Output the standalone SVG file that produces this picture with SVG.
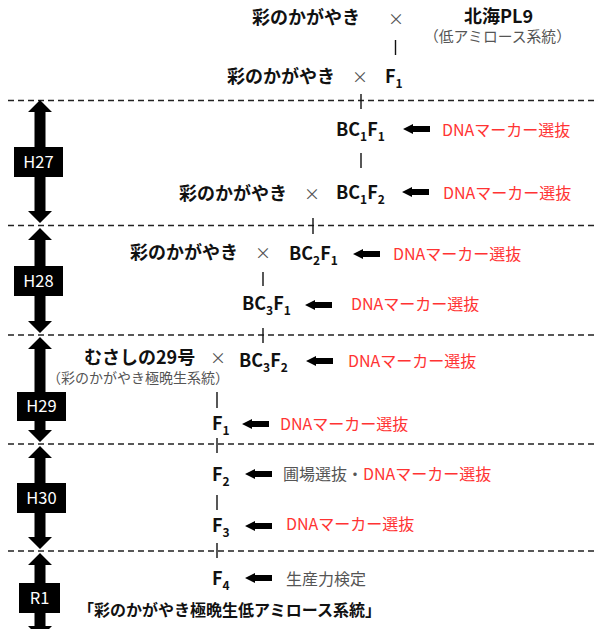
<svg xmlns="http://www.w3.org/2000/svg" width="595" height="629" viewBox="0 0 595 629">
<style>
text{font-family:"Noto Sans CJK JP","Noto Sans",sans-serif;}
.b{font-size:18px;font-weight:bold;fill:#111;}
.x{font-size:16px;fill:#555;text-anchor:middle;}
.g{font-size:16px;fill:#555;}
.gs{font-size:14px;fill:#555;}
.r{font-size:16px;fill:#ff3333;}
.sub{font-size:12px;}
.yr{font-size:16.5px;fill:#fff;text-anchor:middle;}
.dash{stroke:#222;stroke-width:1.3;stroke-dasharray:6 4;fill:none;}
.vl{stroke:#111;stroke-width:1.4;fill:none;}
.ar{fill:#000;}
</style>
<defs>
<path id="la" d="M0,0 L10,-5 L10,-3 L27,-3 L27,3 L10,3 L10,5 Z"/>
</defs>

<g id="dividers">
<line class="dash" x1="8" y1="100.5" x2="595" y2="100.5"/>
<line class="dash" x1="8" y1="225.5" x2="595" y2="225.5"/>
<line class="dash" x1="8" y1="335" x2="595" y2="335"/>
<line class="dash" x1="8" y1="444" x2="595" y2="444"/>
<line class="dash" x1="8" y1="551" x2="595" y2="551"/>
</g>

<g id="years">
<g id="H27">
<path class="ar" d="M40,100 L52,112 L45.5,112 L45.5,211 L52,211 L40,223 L28,211 L34.5,211 L34.5,112 L28,112 Z"/>
<rect x="14" y="147" width="49" height="30" fill="#000"/>
<text class="yr" x="38.5" y="167.5">H27</text>
</g>
<g id="H28">
<path class="ar" d="M40,228 L52,240 L45.5,240 L45.5,321 L52,321 L40,333 L28,321 L34.5,321 L34.5,240 L28,240 Z"/>
<rect x="14" y="266" width="49" height="30" fill="#000"/>
<text class="yr" x="38.5" y="286.5">H28</text>
</g>
<g id="H29">
<path class="ar" d="M40,337 L52,349 L45.5,349 L45.5,430 L52,430 L40,442 L28,430 L34.5,430 L34.5,349 L28,349 Z"/>
<rect x="17" y="392" width="49" height="29" fill="#000"/>
<text class="yr" x="41.5" y="412">H29</text>
</g>
<g id="H30">
<path class="ar" d="M40,446 L52,458 L45.5,458 L45.5,537 L52,537 L40,549 L28,537 L34.5,537 L34.5,458 L28,458 Z"/>
<rect x="17" y="483" width="49" height="30" fill="#000"/>
<text class="yr" x="41.5" y="503.5">H30</text>
</g>
<g id="R1">
<path class="ar" d="M40,553 L52,565 L45.5,565 L45.5,626 L52,626 L40,638 L28,626 L34.5,626 L34.5,565 L28,565 Z"/>
<rect x="19" y="583" width="41" height="30" fill="#000"/>
<text class="yr" x="39.5" y="603.5">R1</text>
</g>
</g>

<g id="connectors">
<line class="vl" x1="395.5" y1="40" x2="395.5" y2="55"/>
<line class="vl" x1="361" y1="94" x2="361" y2="109"/>
<line class="vl" x1="361" y1="153" x2="361" y2="168"/>
<line class="vl" x1="313" y1="218" x2="313" y2="234"/>
<line class="vl" x1="263" y1="272" x2="263" y2="286"/>
<line class="vl" x1="263" y1="328" x2="263" y2="343"/>
<line class="vl" x1="217" y1="392" x2="217" y2="408"/>
<line class="vl" x1="217" y1="438" x2="217" y2="453"/>
<line class="vl" x1="217" y1="495" x2="217" y2="510"/>
<line class="vl" x1="217" y1="543" x2="217" y2="558"/>
<use href="#la" x="403" y="129"/>
<use href="#la" x="402" y="192"/>
<use href="#la" x="353" y="254"/>
<use href="#la" x="305" y="305"/>
<use href="#la" x="306" y="361"/>
<use href="#la" x="242" y="424"/>
<use href="#la" x="245" y="474"/>
<use href="#la" x="245" y="526"/>
<use href="#la" x="245" y="578"/>
</g>

<g id="n-parents">
<text class="b" x="252" y="24">彩のかがやき</text>
<text class="x" x="396" y="25">×</text>
<text class="b" x="464" y="23">北海PL9</text>
<text class="gs" x="424" y="42" style="font-size:14.8px">（低アミロース系統）</text>
</g>

<g id="n-F1cross">
<text class="b" x="227" y="83">彩のかがやき</text>
<text class="x" x="360" y="83">×</text>
<text class="b" x="385" y="83">F<tspan class="sub" dy="5">1</tspan></text>
</g>

<g id="n-BC1F1">
<text class="b" x="336" y="136">BC<tspan class="sub" dy="5">1</tspan><tspan dy="-5">F</tspan><tspan class="sub" dy="5">1</tspan></text>
<text class="r" x="442" y="136">DNAマーカー選抜</text>
</g>

<g id="n-BC1F2">
<text class="b" x="179" y="200">彩のかがやき</text>
<text class="x" x="312" y="200">×</text>
<text class="b" x="336" y="199">BC<tspan class="sub" dy="5">1</tspan><tspan dy="-5">F</tspan><tspan class="sub" dy="5">2</tspan></text>
<text class="r" x="443" y="199">DNAマーカー選抜</text>
</g>

<g id="n-BC2F1">
<text class="b" x="130" y="259">彩のかがやき</text>
<text class="x" x="263" y="259">×</text>
<text class="b" x="289" y="260">BC<tspan class="sub" dy="5">2</tspan><tspan dy="-5">F</tspan><tspan class="sub" dy="5">1</tspan></text>
<text class="r" x="393" y="260">DNAマーカー選抜</text>
</g>

<g id="n-BC3F1">
<text class="b" x="242" y="310">BC<tspan class="sub" dy="5">3</tspan><tspan dy="-5">F</tspan><tspan class="sub" dy="5">1</tspan></text>
<text class="r" x="351" y="310">DNAマーカー選抜</text>
</g>

<g id="n-BC3F2">
<text class="b" x="84" y="364">むさしの29号</text>
<text class="gs" x="47" y="383">（彩のかがやき極晩生系統）</text>
<text class="x" x="218" y="364">×</text>
<text class="b" x="239" y="367">BC<tspan class="sub" dy="5">3</tspan><tspan dy="-5">F</tspan><tspan class="sub" dy="5">2</tspan></text>
<text class="r" x="348" y="367">DNAマーカー選抜</text>
</g>

<g id="n-F1">
<text class="b" x="212" y="430">F<tspan class="sub" dy="5">1</tspan></text>
<text class="r" x="280" y="430">DNAマーカー選抜</text>
</g>

<g id="n-F2">
<text class="b" x="212" y="481">F<tspan class="sub" dy="5">2</tspan></text>
<text class="g" x="283" y="480">圃場選抜・<tspan fill="#ff3333">DNAマーカー選抜</tspan></text>
</g>

<g id="n-F3">
<text class="b" x="212" y="532">F<tspan class="sub" dy="5">3</tspan></text>
<text class="r" x="286" y="530">DNAマーカー選抜</text>
</g>

<g id="n-F4">
<text class="b" x="212" y="585">F<tspan class="sub" dy="5">4</tspan></text>
<text class="g" x="286" y="585">生産力検定</text>
</g>

<g id="n-result">
<text class="b" x="78" y="616" style="font-size:16px">「彩のかがやき極晩生低アミロース系統」</text>
</g>
</svg>
